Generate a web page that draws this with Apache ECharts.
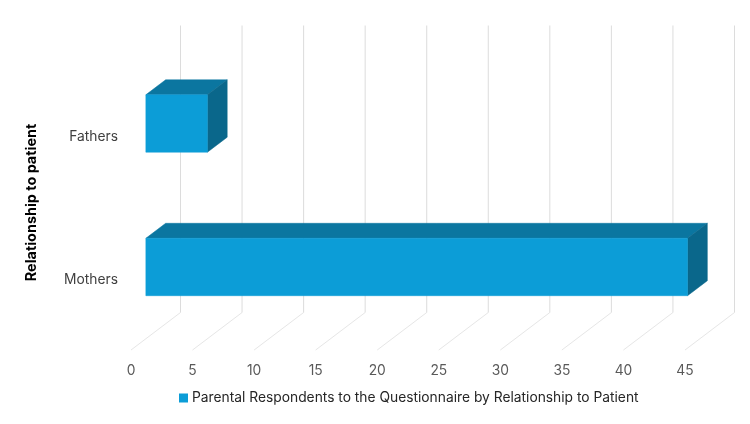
<!DOCTYPE html>
<html>
<head>
<meta charset="utf-8">
<style>html,body{margin:0;padding:0;background:#fff}#chart{width:750px;height:424px}</style>
<script src="https://cdn.jsdelivr.net/npm/echarts@6/dist/echarts.min.js"></script>
</head>
<body>
<div id="chart"></div>
<script>
// Respondent counts per relationship, bottom row first
const categories = ['Mothers', 'Fathers'];
const respondents = [44, 5];
const xTicks = [0, 5, 10, 15, 20, 25, 30, 35, 40, 45];
const seriesName = 'Parental Respondents to the Questionnaire by Relationship to Patient';
const axisTitle = 'Relationship to patient';

// Oblique projection used for the pseudo-3D box look
const DEPTH_X = 49.5, DEPTH_Y = -37.5;
const BAR_OFFSET = 0.3;      // front face sits 30% into the depth
const BAR_DEPTH = 0.4;       // box depth as a share of the full depth

function poly(points, fill) {
  return { type: 'polygon', shape: { points }, style: { fill, stroke: fill, lineWidth: 0.5 } };
}

function renderWall(params, api) {
  const cs = params.coordSys;
  const x = api.coord([api.value(0), 0])[0];
  const bottom = cs.y + cs.height;
  return {
    type: 'group',
    children: [
      { type: 'polyline',
        shape: { points: [[x, bottom], [x + DEPTH_X, bottom + DEPTH_Y]] },
        style: { stroke: '#e6e6e6', lineWidth: 1, fill: null } },
      { type: 'line',
        shape: { x1: x + DEPTH_X, y1: bottom + DEPTH_Y, x2: x + DEPTH_X, y2: cs.y + DEPTH_Y },
        style: { stroke: '#dcdcdc', lineWidth: 1 } }
    ]
  };
}

function renderBox(params, api) {
  const start = api.coord([0, api.value(1)]);
  const end = api.coord([api.value(0), api.value(1)]);
  const h = api.size([0, 1])[1] * 0.4;
  const ox = DEPTH_X * BAR_OFFSET, oy = DEPTH_Y * BAR_OFFSET;
  const dx = DEPTH_X * BAR_DEPTH, dy = DEPTH_Y * BAR_DEPTH;
  const l = start[0] + ox, r = end[0] + ox;
  const t = start[1] + oy - h / 2, b = start[1] + oy + h / 2;
  return {
    type: 'group',
    children: [
      poly([[l, t], [l + dx, t + dy], [r + dx, t + dy], [r, t]], '#0b76a0'),
      poly([[r, t], [r + dx, t + dy], [r + dx, b + dy], [r, b]], '#0a678b'),
      poly([[l, t], [r, t], [r, b], [l, b]], '#0c9dd7')
    ]
  };
}

const chart = echarts.init(document.getElementById('chart'), null, { renderer: 'canvas' });
chart.setOption({
  animation: false,
  backgroundColor: '#fff',
  textStyle: { fontFamily: 'Inter, "Noto Sans", sans-serif' },
  grid: { left: 131, right: 65, top: 63, bottom: 74, containLabel: false },
  xAxis: {
    type: 'value', min: 0, max: 45, interval: 5,
    axisLine: { show: false }, axisTick: { show: false }, splitLine: { show: false },
    axisLabel: { color: '#595959', fontSize: 13.8, margin: 14,
      formatter: v => xTicks.includes(v) ? String(v) : '' }
  },
  yAxis: {
    type: 'category', data: categories,
    axisLine: { show: false }, axisTick: { show: false }, splitLine: { show: false },
    axisLabel: { color: '#404040', fontSize: 13.8, margin: 13, verticalAlign: 'top', lineHeight: 4 },
    name: axisTitle, nameLocation: 'middle', nameGap: 92, nameRotate: 90,
    nameTextStyle: { color: '#000', fontSize: 14.4, fontWeight: 'bold', padding: [0, 0, 0, 8] }
  },
  legend: {
    data: [{ name: seriesName, icon: 'rect' }],
    left: 179, top: 391, padding: 0, itemWidth: 9, itemHeight: 9, itemGap: 4,
    textStyle: { color: '#262626', fontSize: 13.8, padding: [0, 0, 0, -1] }
  },
  series: [
    { type: 'custom', name: 'walls', silent: true, clip: false, z: 1,
      encode: { x: 0 }, data: xTicks.map(v => [v]), renderItem: renderWall },
    { type: 'custom', name: seriesName, clip: false, z: 2,
      itemStyle: { color: '#0c9dd7' },
      encode: { x: 0, y: 1 },
      data: respondents.map((v, i) => [v, i]), renderItem: renderBox }
  ]
});
</script>
</body>
</html>
